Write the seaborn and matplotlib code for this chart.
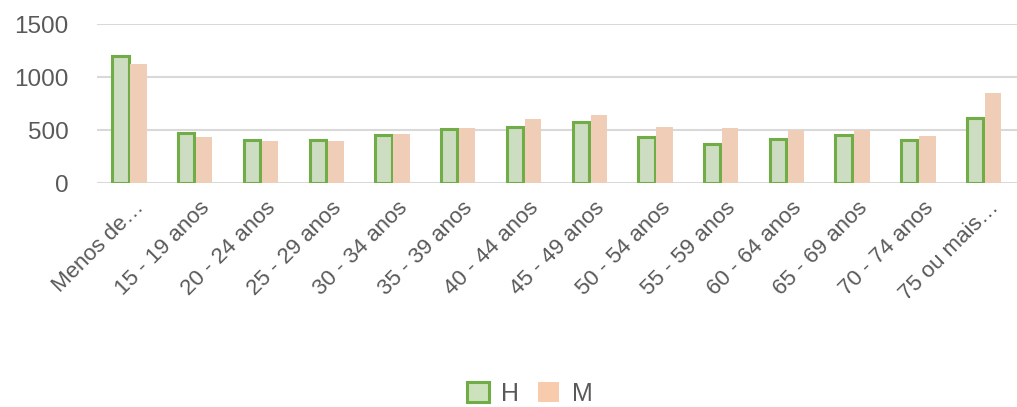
import pandas as pd
import matplotlib.pyplot as plt
import matplotlib.transforms as mtransforms
from matplotlib.patches import Patch
import seaborn as sns

sns.set_theme(style="white")
plt.rcParams["font.family"] = ["Liberation Sans", "DejaVu Sans"]

# Dados
faixas = [
    "Menos de…", "15 - 19 anos", "20 - 24 anos", "25 - 29 anos", "30 - 34 anos",
    "35 - 39 anos", "40 - 44 anos", "45 - 49 anos", "50 - 54 anos", "55 - 59 anos",
    "60 - 64 anos", "65 - 69 anos", "70 - 74 anos", "75 ou mais…",
]
homens = [1200, 470, 405, 405, 455, 510, 528, 578, 440, 368, 421, 455, 405, 613]
mulheres = [1130, 434, 396, 396, 465, 520, 606, 641, 534, 519, 503, 503, 449, 849]

df = pd.DataFrame({
    "faixa": faixas * 2,
    "valor": homens + mulheres,
    "sexo": ["H"] * len(faixas) + ["M"] * len(faixas),
})

verde_borda = "#70AD47"
verde_fill = "#CCE2BC"
laranja = "#F8CBAD"
cinza_txt = "#595959"

fig = plt.figure(figsize=(10.17, 4.07), dpi=100)
ax = fig.add_axes([0.095, 0.5496, 0.905, 0.3907])

sns.barplot(data=df, x="faixa", y="valor", hue="sexo", palette=[verde_fill, laranja],
            width=0.55, gap=0.1, ax=ax, legend=False)

# borda verde só nas barras H
n = len(faixas)
for barra in ax.patches[:n]:
    barra.set_edgecolor(verde_borda)
    barra.set_linewidth(2.2)
for barra in ax.patches[n:2 * n]:
    barra.set_edgecolor("none")

ax.set_ylim(0, 1500)
ax.set_yticks([0, 500, 1000, 1500])
ax.set_xlim(-0.5, n - 0.5)
ax.yaxis.grid(True, color="#D9D9D9", linewidth=1.5)
ax.set_axisbelow(True)
for s in ax.spines.values():
    s.set_visible(False)
ax.set_xlabel("")
ax.set_ylabel("")
ax.tick_params(axis="x", length=0, labelsize=16, colors=cinza_txt, pad=4)
ax.tick_params(axis="y", length=0, labelsize=17.5, colors=cinza_txt, pad=20)
desloc = mtransforms.ScaledTranslation(3 / 72, -6 / 72, fig.dpi_scale_trans)
for lbl in ax.get_xticklabels():
    lbl.set_rotation(45)
    lbl.set_ha("right")
    lbl.set_rotation_mode("anchor")
    lbl.set_transform(lbl.get_transform() + desloc)

handles = [
    Patch(facecolor=verde_fill, edgecolor=verde_borda, linewidth=2.2, label="H"),
    Patch(facecolor=laranja, edgecolor="none", label="M"),
]
fig.legend(handles=handles, loc="center", bbox_to_anchor=(0.521, 0.033), ncol=2,
           frameon=False, fontsize=18, labelcolor=cinza_txt, handlelength=0.85,
           handleheight=0.85, handletextpad=0.5, columnspacing=0.75)

fig.savefig("out.png", dpi=100)
